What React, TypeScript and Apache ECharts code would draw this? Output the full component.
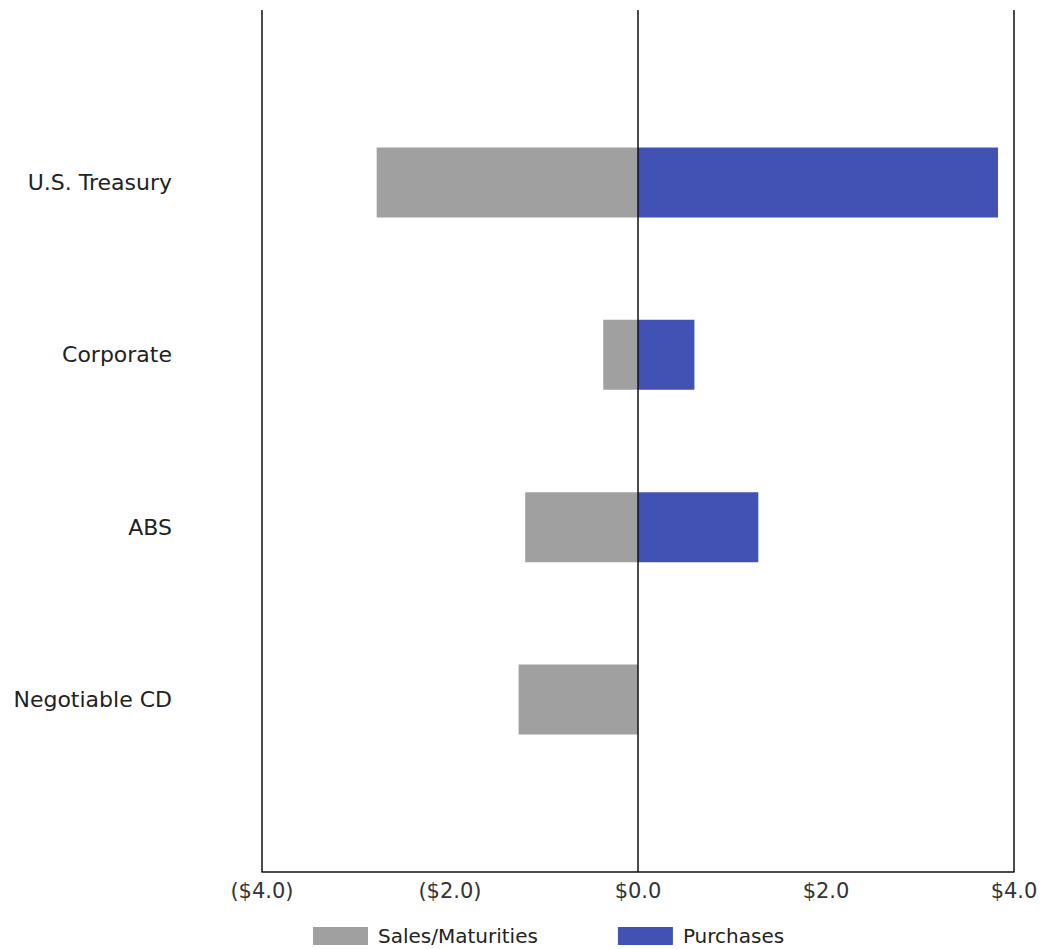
import React, { useEffect, useRef } from "react";
import * as echarts from "echarts";

const categories = ["", "Negotiable CD", "ABS", "Corporate", "U.S. Treasury", ""];
const salesMaturities = [null, -1.27, -1.2, -0.37, -2.78, null];
const purchases = [null, 0, 1.28, 0.6, 3.83, null];
const xTicks = [-4, -2, 0, 2, 4];
const referenceLines = [-4, 0, 4];

const fmt = (v: number) => {
  const s = "$" + Math.abs(v).toFixed(1);
  return v < 0 ? "(" + s + ")" : s;
};

export default function App() {
  const ref = useRef<HTMLDivElement>(null);
  useEffect(() => {
    if (!ref.current) return;
    const chart = echarts.init(ref.current, undefined, { renderer: "svg" });
    const font = "'DejaVu Sans', 'Liberation Sans', Arial, sans-serif";
    chart.setOption({
      animation: false,
      backgroundColor: "#ffffff",
      textStyle: { fontFamily: font },
      grid: { left: 262, right: 28, top: 10, bottom: 77, containLabel: false },
      legend: {
        top: 926,
        left: 313,
        padding: 0,
        itemWidth: 55,
        itemHeight: 18,
        itemGap: 80,
        icon: "rect",
        textStyle: {
          fontSize: 20,
          lineHeight: 20,
          color: "#222",
          fontFamily: font,
          padding: [0, 0, 0, 5],
        },
        data: ["Sales/Maturities", "Purchases"],
      },
      xAxis: {
        type: "value",
        min: xTicks[0],
        max: xTicks[xTicks.length - 1],
        interval: 2,
        axisLine: { show: true, onZero: false, lineStyle: { color: "#111", width: 1.5 } },
        axisTick: { show: false },
        splitLine: { show: false },
        axisLabel: {
          fontSize: 21,
          color: "#333",
          margin: 8,
          formatter: (v: number) => fmt(v),
        },
      },
      yAxis: {
        type: "category",
        data: categories,
        boundaryGap: false,
        axisLine: { show: false },
        axisTick: { show: false },
        splitLine: { show: false },
        axisLabel: { fontSize: 22, color: "#222", margin: 90 },
      },
      series: [
        {
          name: "Sales/Maturities",
          type: "bar",
          stack: "total",
          data: salesMaturities,
          barWidth: 70,
          itemStyle: { color: "#a0a0a0" },
          markLine: {
            silent: true,
            symbol: "none",
            label: { show: false },
            lineStyle: { color: "#111", width: 1.5, type: "solid" },
            data: referenceLines.map((x) => ({ xAxis: x })),
          },
          z: 1,
        },
        {
          name: "Purchases",
          type: "bar",
          stack: "total",
          data: purchases,
          barWidth: 70,
          itemStyle: { color: "#4152b4" },
          z: 1,
        },
      ],
    });
    return () => chart.dispose();
  }, []);
  return (
    <div
      ref={ref}
      style={{ position: "absolute", left: 0, top: 0, width: 1042, height: 949 }}
    />
  );
}
